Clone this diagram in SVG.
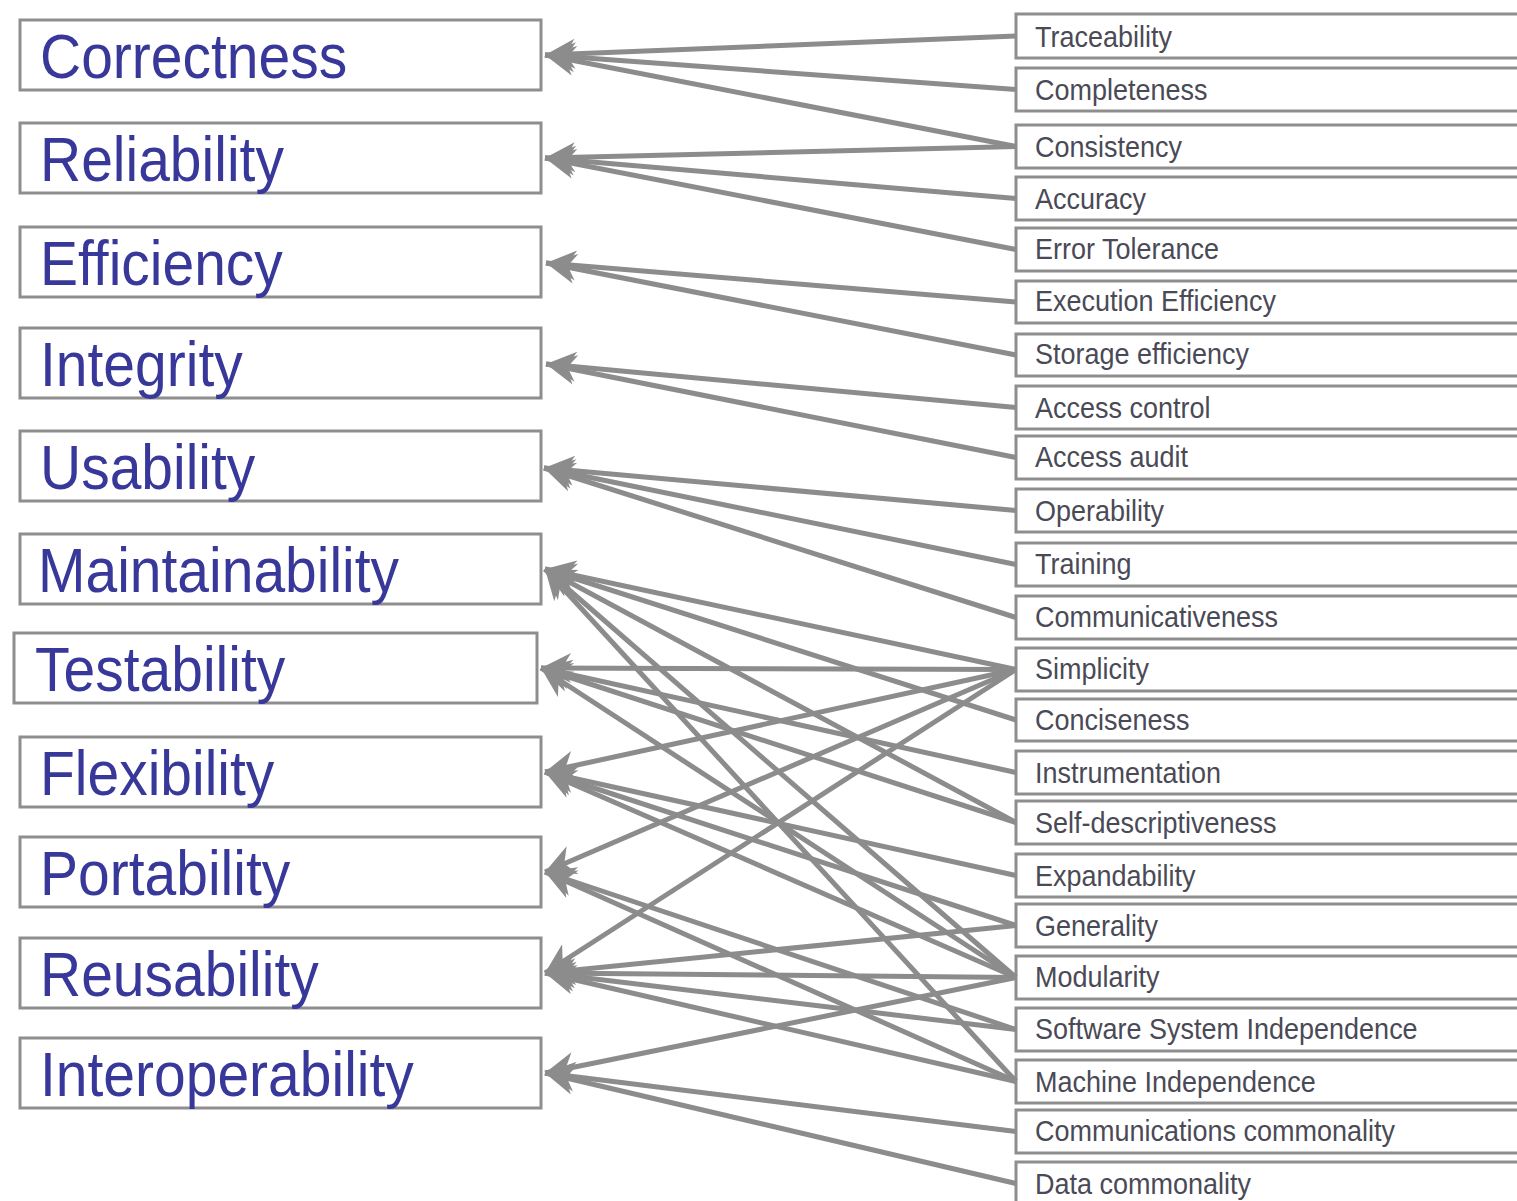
<svg xmlns="http://www.w3.org/2000/svg" width="1517" height="1201" viewBox="0 0 1517 1201">
  <style>
    .factor rect { fill: #ffffff; stroke: #8e8e8e; stroke-width: 3; }
    .criterion rect { fill: #ffffff; stroke: #8e8e8e; stroke-width: 3; }
    .factor text { font-family: "Liberation Sans", Arial, sans-serif; font-size: 57px; fill: #38389a; }
    .criterion text { font-family: "Liberation Sans", Arial, sans-serif; font-size: 27px; fill: #4a4a56; }
    #links line { stroke: #8c8c8c; stroke-width: 5; marker-start: url(#head); }
  </style>
  <defs>
    <marker id="head" markerUnits="userSpaceOnUse" viewBox="-2 -18 36 36" refX="0" refY="0" markerWidth="36" markerHeight="36" orient="auto">
      <path d="M0,0 L30,-15 L21,0 L30,15 Z" fill="#8c8c8c"/>
    </marker>
  </defs>

  <rect width="1517" height="1201" fill="#ffffff"/>

  <!-- criteria (right column) -->
  <g id="traceability" class="criterion"><rect x="1016" y="14" width="530" height="44"/><text transform="translate(1035,47) scale(1,1.1)">Traceability</text></g>
  <g id="completeness" class="criterion"><rect x="1016" y="68" width="530" height="43"/><text transform="translate(1035,100) scale(1,1.1)">Completeness</text></g>
  <g id="consistency" class="criterion"><rect x="1016" y="125" width="530" height="43"/><text transform="translate(1035,157) scale(1,1.1)">Consistency</text></g>
  <g id="accuracy" class="criterion"><rect x="1016" y="177" width="530" height="43"/><text transform="translate(1035,209) scale(1,1.1)">Accuracy</text></g>
  <g id="error-tolerance" class="criterion"><rect x="1016" y="228" width="530" height="43"/><text transform="translate(1035,259) scale(1,1.1)">Error Tolerance</text></g>
  <g id="execution-efficiency" class="criterion"><rect x="1016" y="281" width="530" height="42"/><text transform="translate(1035,311) scale(1,1.1)">Execution Efficiency</text></g>
  <g id="storage-efficiency" class="criterion"><rect x="1016" y="334" width="530" height="42"/><text transform="translate(1035,364) scale(1,1.1)">Storage efficiency</text></g>
  <g id="access-control" class="criterion"><rect x="1016" y="386" width="530" height="43"/><text transform="translate(1035,418) scale(1,1.1)">Access control</text></g>
  <g id="access-audit" class="criterion"><rect x="1016" y="436" width="530" height="43"/><text transform="translate(1035,467) scale(1,1.1)">Access audit</text></g>
  <g id="operability" class="criterion"><rect x="1016" y="489" width="530" height="43"/><text transform="translate(1035,521) scale(1,1.1)">Operability</text></g>
  <g id="training" class="criterion"><rect x="1016" y="543" width="530" height="43"/><text transform="translate(1035,574) scale(1,1.1)">Training</text></g>
  <g id="communicativeness" class="criterion"><rect x="1016" y="596" width="530" height="43"/><text transform="translate(1035,627) scale(1,1.1)">Communicativeness</text></g>
  <g id="simplicity" class="criterion"><rect x="1016" y="648" width="530" height="43"/><text transform="translate(1035,679) scale(1,1.1)">Simplicity</text></g>
  <g id="conciseness" class="criterion"><rect x="1016" y="699" width="530" height="42"/><text transform="translate(1035,730) scale(1,1.1)">Conciseness</text></g>
  <g id="instrumentation" class="criterion"><rect x="1016" y="751" width="530" height="43"/><text transform="translate(1035,783) scale(1,1.1)">Instrumentation</text></g>
  <g id="self-descriptiveness" class="criterion"><rect x="1016" y="801" width="530" height="43"/><text transform="translate(1035,833) scale(1,1.1)">Self-descriptiveness</text></g>
  <g id="expandability" class="criterion"><rect x="1016" y="854" width="530" height="43"/><text transform="translate(1035,886) scale(1,1.1)">Expandability</text></g>
  <g id="generality" class="criterion"><rect x="1016" y="904" width="530" height="43"/><text transform="translate(1035,936) scale(1,1.1)">Generality</text></g>
  <g id="modularity" class="criterion"><rect x="1016" y="956" width="530" height="43"/><text transform="translate(1035,987) scale(1,1.1)">Modularity</text></g>
  <g id="software-system-independence" class="criterion"><rect x="1016" y="1008" width="530" height="43"/><text transform="translate(1035,1039) scale(1,1.1)">Software System Independence</text></g>
  <g id="machine-independence" class="criterion"><rect x="1016" y="1060" width="530" height="43"/><text transform="translate(1035,1092) scale(1,1.1)">Machine Independence</text></g>
  <g id="communications-commonality" class="criterion"><rect x="1016" y="1110" width="530" height="43"/><text transform="translate(1035,1141) scale(1,1.1)">Communications commonality</text></g>
  <g id="data-commonality" class="criterion"><rect x="1016" y="1162" width="530" height="43"/><text transform="translate(1035,1194) scale(1,1.1)">Data commonality</text></g>

  <!-- quality factors (left column) -->
  <g id="correctness" class="factor"><rect x="20" y="20" width="521" height="70"/><text transform="translate(40,78) scale(1,1.1)">Correctness</text></g>
  <g id="reliability" class="factor"><rect x="20" y="123" width="521" height="70"/><text transform="translate(40,181) scale(1,1.1)">Reliability</text></g>
  <g id="efficiency" class="factor"><rect x="20" y="227" width="521" height="70"/><text transform="translate(40,285) scale(1,1.1)">Efficiency</text></g>
  <g id="integrity" class="factor"><rect x="20" y="328" width="521" height="70"/><text transform="translate(40,386) scale(1,1.1)">Integrity</text></g>
  <g id="usability" class="factor"><rect x="20" y="431" width="521" height="70"/><text transform="translate(40,489) scale(1,1.1)">Usability</text></g>
  <g id="maintainability" class="factor"><rect x="20" y="534" width="521" height="70"/><text transform="translate(38,592) scale(1,1.1)">Maintainability</text></g>
  <g id="testability" class="factor"><rect x="14" y="633" width="523" height="70"/><text transform="translate(35,691) scale(1,1.1)">Testability</text></g>
  <g id="flexibility" class="factor"><rect x="20" y="737" width="521" height="70"/><text transform="translate(40,795) scale(1,1.1)">Flexibility</text></g>
  <g id="portability" class="factor"><rect x="20" y="837" width="521" height="70"/><text transform="translate(40,895) scale(1,1.1)">Portability</text></g>
  <g id="reusability" class="factor"><rect x="20" y="938" width="521" height="70"/><text transform="translate(40,996) scale(1,1.1)">Reusability</text></g>
  <g id="interoperability" class="factor"><rect x="20" y="1038" width="521" height="70"/><text transform="translate(40,1096) scale(1,1.1)">Interoperability</text></g>

  <!-- criterion -> factor links, arrowhead at the factor end -->
  <g id="links">
    <line x1="545" y1="55" x2="1016" y2="36"/>
    <line x1="545" y1="55" x2="1016" y2="89.5"/>
    <line x1="545" y1="55" x2="1016" y2="146.5"/>

    <line x1="545" y1="158" x2="1016" y2="146.5"/>
    <line x1="545" y1="158" x2="1016" y2="198.5"/>
    <line x1="545" y1="158" x2="1016" y2="249.5"/>

    <line x1="546" y1="263" x2="1016" y2="302"/>
    <line x1="546" y1="263" x2="1016" y2="355"/>

    <line x1="546" y1="364" x2="1016" y2="407.5"/>
    <line x1="546" y1="364" x2="1016" y2="457.5"/>

    <line x1="544" y1="468" x2="1016" y2="510.5"/>
    <line x1="544" y1="468" x2="1016" y2="564.5"/>
    <line x1="544" y1="468" x2="1016" y2="617.5"/>

    <line x1="545" y1="569" x2="1016" y2="669.5"/>
    <line x1="545" y1="569" x2="1016" y2="720"/>
    <line x1="545" y1="569" x2="1016" y2="822.5"/>
    <line x1="545" y1="569" x2="1016" y2="977.5"/>
    <line x1="545" y1="569" x2="1016" y2="1081.5"/>

    <line x1="541" y1="668" x2="1016" y2="669.5"/>
    <line x1="541" y1="668" x2="1016" y2="772.5"/>
    <line x1="541" y1="668" x2="1016" y2="822.5"/>
    <line x1="541" y1="668" x2="1016" y2="977.5"/>

    <line x1="545" y1="772" x2="1016" y2="669.5"/>
    <line x1="545" y1="772" x2="1016" y2="875.5"/>
    <line x1="545" y1="772" x2="1016" y2="925.5"/>
    <line x1="545" y1="772" x2="1016" y2="977.5"/>

    <line x1="545" y1="872" x2="1016" y2="669.5"/>
    <line x1="545" y1="872" x2="1016" y2="1029.5"/>
    <line x1="545" y1="872" x2="1016" y2="1081.5"/>

    <line x1="545" y1="973" x2="1016" y2="669.5"/>
    <line x1="545" y1="973" x2="1016" y2="925.5"/>
    <line x1="545" y1="973" x2="1016" y2="977.5"/>
    <line x1="545" y1="973" x2="1016" y2="1029.5"/>
    <line x1="545" y1="973" x2="1016" y2="1081.5"/>

    <line x1="545" y1="1073" x2="1016" y2="977.5"/>
    <line x1="545" y1="1073" x2="1016" y2="1131.5"/>
    <line x1="545" y1="1073" x2="1016" y2="1183.5"/>
  </g>
</svg>
